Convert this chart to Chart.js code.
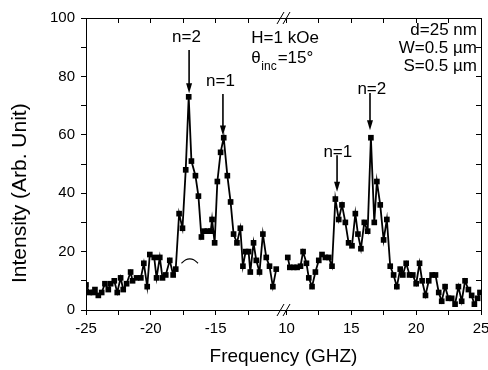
<!DOCTYPE html>
<html><head><meta charset="utf-8">
<script src="https://cdn.jsdelivr.net/npm/chart.js@4"></script>
<style>html,body{margin:0;padding:0;background:#fff}</style>
</head><body>
<canvas id="c" width="488" height="370"></canvas>
<script>
// ---- data ----
const negFreq = [-25.0,-24.74,-24.44,-24.31,-24.05,-23.79,-23.54,-23.28,-23.1,-22.82,-22.59,-22.33,-22.13,-21.87,-21.56,-21.41,-21.1,-20.77,-20.54,-20.28,-20.08,-19.74,-19.56,-19.31,-19.1,-18.85,-18.54,-18.28,-18.08,-17.82,-17.56,-17.31,-17.08,-16.87,-16.56,-16.33,-16.1,-15.9,-15.64,-15.38,-15.28,-15.08,-14.87,-14.62,-14.38,-14.1,-13.85,-13.62,-13.36,-13.1,-12.9,-12.69,-12.46,-12.33,-12.08,-11.87,-11.62,-11.36,-11.1,-10.85,-10.59,-10.33];
const negIntensity = [8.6,6,6,7,5,6,9,7,9,10,6,11,7,9,13,10,11,11,16,8,19,18,11,18,11,12,17,12,14,33,28,48,73,51,46,39,25,27,27,27,31,23,44,54,59,46,37,26,23,28,15,20,20,13,23,17,13,26,18,15,8,14];
const posFreq = [10.1,10.26,10.56,10.82,11.08,11.28,11.54,11.72,11.97,12.23,12.49,12.74,13.0,13.26,13.51,13.77,14.03,14.28,14.54,14.79,15.05,15.31,15.51,15.74,16.0,16.26,16.51,16.77,16.97,17.23,17.49,17.74,18.0,18.26,18.51,18.77,18.97,19.23,19.49,19.74,20.0,20.26,20.46,20.72,20.97,21.23,21.49,21.74,21.97,22.23,22.49,22.74,23.0,23.26,23.51,23.77,24.03,24.28,24.49,24.74,24.92];
const posIntensity = [18,14.6,14.6,14.6,15,20,16,11,8,13,17,19,18,18,15,38,31,36,30,23,22,33,26,21,30,27,59,30,44,36,24,31,15,12,8,14,12,16,12,12,9,16,10,5,10,12,12,6,3,8,4,4,2,8,3,10,7,5,2,4,6];
const arcFreq = [-17.64,-17.3,-17.0,-16.7,-16.36];
const arcIntensity = [16,17.2,17.5,17.2,16];

const xMajorTicks = [-25,-20,-15,10,15,20,25];
const xMinorTicks = [-22.5,-17.5,-12.5,12.5,17.5,22.5];
const yMajorTicks = [0,20,40,60,80,100];
const yMinorTicks = [10,30,50,70,90];

const peakLabels = [
  {f:-17.25, v:93.3, text:'n=2'},
  {f:-14.63, v:78.4, text:'n=1'},
  {f:16.58, v:75.7, text:'n=2'},
  {f:13.96, v:54.1, text:'n=1'}
];
const peakArrows = [
  {f:-17.05, from:89, to:74.2},
  {f:-14.44, from:74, to:59.8},
  {f:16.44, from:74.3, to:61.6},
  {f:13.9, from:53, to:40.5}
];
const infoLeft = {f:-12.25, vH:93.2, vTheta:86.3};
const infoRight = {f:24.69, lines:['d=25 nm','W=0.5 µm','S=0.5 µm'], v:[95.9, 89.7, 83.6]};

// ---- broken axis mapping ----
const GAP = 0.46;
function toAxis(f){ return f < 0 ? f + 25 : f - 10 + 15 + GAP; }
const FONT = "'Liberation Sans', Arial, sans-serif";

const xTickFreqs = xMajorTicks.concat(xMinorTicks).sort((a,b)=>a-b);
const xTickVals = xTickFreqs.map(toAxis);
const xTickLabels = xTickFreqs.map(f => xMajorTicks.includes(f) ? String(f) : '');
const yTickVals = yMajorTicks.concat(yMinorTicks).sort((a,b)=>a-b);

const pts = (fs, vs) => fs.map((f,i)=>({x:toAxis(f), y:vs[i]}));

const whiteBg = {
  id:'whiteBg',
  beforeDraw(chart){ const c=chart.ctx; c.save(); c.fillStyle='#fff'; c.fillRect(0,0,chart.width,chart.height); c.restore(); }
};

const annot = {
  id:'annot',
  afterDraw(chart){
    const c = chart.ctx, xs = chart.scales.x, ys = chart.scales.y, area = chart.chartArea;
    const X = f => xs.getPixelForValue(toAxis(f));
    const Y = v => ys.getPixelForValue(v);
    c.save();
    c.fillStyle = '#000'; c.strokeStyle = '#000';
    c.textBaseline = 'middle';
    c.font = '17px ' + FONT;
    c.textAlign = 'center';
    peakLabels.forEach(p => c.fillText(p.text, X(p.f), Y(p.v)));
    // arrows
    c.lineWidth = 1.6;
    peakArrows.forEach(a => {
      const x = X(a.f), y1 = Y(a.from), y2 = Y(a.to);
      c.beginPath(); c.moveTo(x, y1); c.lineTo(x, y2 - 8); c.stroke();
      c.beginPath(); c.moveTo(x - 3, y2 - 10); c.lineTo(x + 3, y2 - 10); c.lineTo(x, y2); c.closePath(); c.fill();
    });
    // H / theta text
    c.textAlign = 'left';
    const xl = X(infoLeft.f);
    c.fillText('H=1 kOe', xl, Y(infoLeft.vH));
    const yt = Y(infoLeft.vTheta);
    c.fillText('θ', xl, yt);
    let w = c.measureText('θ').width;
    c.font = '12px ' + FONT;
    c.fillText('inc', xl + w + 0.5, yt + 9);
    const w2 = c.measureText('inc').width;
    c.font = '17px ' + FONT;
    c.fillText('=15°', xl + w + w2 + 1.5, yt);
    // right text
    c.textAlign = 'right';
    const xr = X(infoRight.f);
    infoRight.lines.forEach((t,i) => c.fillText(t, xr, Y(infoRight.v[i])));
    // axis break marks
    const xb = xs.getPixelForValue(15 + GAP/2);
    [area.top, area.bottom].forEach(yb => {
      c.lineWidth = 1;
      [-3, 3].forEach(dx => {
        c.beginPath(); c.moveTo(xb + dx - 3.5, yb + 6); c.lineTo(xb + dx + 3.5, yb - 6); c.stroke();
      });
    });
    c.restore();
  }
};

const tickGrid = (len) => ({drawOnChartArea:false, drawTicks:true, tickLength:len, tickColor:'#000', tickWidth:1});
const border = {display:true, color:'#000', width:1};
const setX = s => { s.ticks = xTickVals.map(v => ({value:v})); };
const setY = s => { s.ticks = yTickVals.map(v => ({value:v})); };

new Chart(document.getElementById('c'), {
  type:'line',
  data:{
    datasets:[
      {data:pts(negFreq,negIntensity), borderColor:'#000', borderWidth:1.8, backgroundColor:'#000', pointStyle:'rect', pointRadius:4, pointBorderWidth:0, tension:0},
      {data:pts(posFreq,posIntensity), borderColor:'#000', borderWidth:1.8, backgroundColor:'#000', pointStyle:'rect', pointRadius:4, pointBorderWidth:0, tension:0},
      {data:pts(arcFreq,arcIntensity), borderColor:'#000', borderWidth:1.2, pointRadius:0, tension:0.4}
    ]
  },
  options:{
    responsive:false, animation:false, devicePixelRatio:1,
    layout:{padding:0},
    plugins:{legend:{display:false}, tooltip:{enabled:false}},
    scales:{
      x:{type:'linear', position:'bottom', min:0, max:30+GAP,
         afterBuildTicks:setX,
         afterFit:s=>{s.height=60; s.paddingLeft=0; s.paddingRight=0;},
         ticks:{autoSkip:false, maxRotation:0, minRotation:0, padding:5, color:'#000', font:{family:FONT, size:15},
                callback:(v,i)=>xTickLabels[i]},
         grid:tickGrid(5), border:border,
         title:{display:true, text:'Frequency (GHZ)', color:'#000', font:{family:FONT, size:19}, padding:{top:2, bottom:2}}},
      x2:{type:'linear', position:'top', min:0, max:30+GAP,
         afterBuildTicks:setX,
         afterFit:s=>{s.height=18; s.paddingLeft=0; s.paddingRight=0;},
         ticks:{display:false}, grid:tickGrid(-5), border:border},
      y:{type:'linear', position:'left', min:0, max:100,
         afterBuildTicks:setY,
         afterFit:s=>{s.width=86; s.paddingTop=0; s.paddingBottom=0;},
         ticks:{autoSkip:false, padding:6, color:'#000', font:{family:FONT, size:15},
                callback:v=>yMajorTicks.includes(v) ? String(v) : ''},
         grid:tickGrid(5), border:border,
         title:{display:true, text:'Intensity (Arb. Unit)' + '\u00a0'.repeat(10), color:'#000', font:{family:FONT, size:21}, padding:{top:8, bottom:0}}},
      y2:{type:'linear', position:'right', min:0, max:100,
         afterBuildTicks:setY,
         afterFit:s=>{s.width=7; s.paddingTop=0; s.paddingBottom=0;},
         ticks:{display:false}, grid:tickGrid(-5), border:border}
    }
  },
  plugins:[whiteBg, annot]
});
</script>
</body></html>
